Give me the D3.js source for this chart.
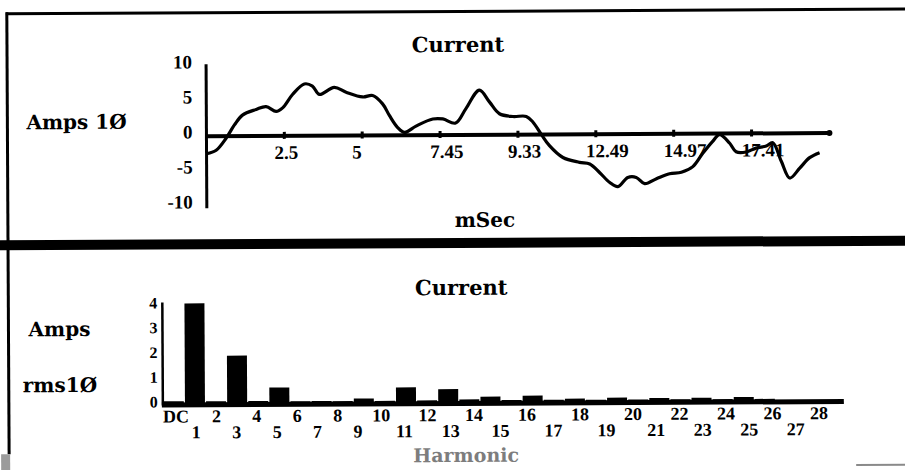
<!DOCTYPE html>
<html>
<head>
<meta charset="utf-8">
<script src="https://cdn.jsdelivr.net/npm/d3@7"></script>
<style>
  body { margin: 0; background: #fff; }
  svg { display: block; }
  .lbl { font-family: "DejaVu Serif", serif; font-weight: bold; fill: #000; }
  .tk { font-family: "Liberation Serif", serif; font-weight: bold; fill: #000; }
</style>
</head>
<body>
<div class="viewport"></div>
<script>
// instantaneous current, one cycle
const timeMs = [0, 0.31, 0.63, 0.9, 1.16, 1.6, 1.92, 2.24, 2.45, 2.77, 3.15, 3.41, 3.63, 4.11, 4.49,
  5.02, 5.34, 5.66, 5.88, 6.14, 6.36, 6.73, 7.27, 7.59, 8.0, 8.34, 8.77, 9.09, 9.41, 9.84, 10.27,
  10.48, 10.74, 11.01, 11.44, 11.97, 12.3, 12.62, 12.94, 13.2, 13.52, 13.79, 14.06, 14.44, 14.86,
  15.24, 15.61, 15.93, 16.25, 16.47, 16.79, 17.0, 17.32, 17.64, 17.97, 18.18, 18.45, 18.72, 19.04,
  19.36, 19.68];
const ampsInst = [-2.5, -2.0, -0.3, 1.6, 3.0, 3.8, 4.2, 3.5, 4.0, 5.9, 7.4, 7.1, 5.9, 6.9, 6.2,
  5.5, 5.7, 4.5, 2.8, 1.1, 0.4, 1.3, 2.3, 2.3, 1.7, 3.8, 6.4, 4.7, 3.0, 2.6, 2.6,
  1.8, 0.1, -1.6, -3.3, -4.0, -4.25, -5.5, -6.9, -7.5, -6.2, -6.2, -7.1, -6.4, -5.7,
  -5.5, -4.7, -2.8, -1.1, -0.15, -1.35, -2.6, -2.65, -2.1, -1.8, -1.35, -4.0, -6.4, -5.0,
  -3.5, -2.8];
const timeTicks = [2.5, 5, 7.5, 10, 12.5, 15, 17.5];
const timeTickLabels = ["2.5", "5", "7.45", "9.33", "12.49", "14.97", "17.41"];
const ampTicks = [10, 5, 0, -5, -10];

// harmonic spectrum
const harmonics = ["DC", "1", "2", "3", "4", "5", "6", "7", "8", "9", "10", "11", "12", "13", "14",
  "15", "16", "17", "18", "19", "20", "21", "22", "23", "24", "25", "26", "27", "28"];
const harmonicAmps = [0.05, 4.0, 0.04, 1.88, 0.04, 0.58, 0.02, 0.03, 0.02, 0.12, 0.02, 0.56, 0.03,
  0.48, 0.06, 0.17, 0.03, 0.2, 0.03, 0.07, 0.02, 0.1, 0.02, 0.08, 0.02, 0.08, 0.02, 0.1, 0.02];
const rmsTicks = [4, 3, 2, 1, 0];

const svg = d3
  .select(".viewport")
  .append("svg")
  .attr("width", 905)
  .attr("height", 470);

// the scan is a little skewed
const page = svg.append("g").attr("transform", "rotate(-0.3,452,240)");

const drawFrame = g => {
  g.append("line")
    .attr("x1", 7).attr("x2", 910).attr("y1", 11.5).attr("y2", 11.5)
    .attr("stroke", "#000").attr("stroke-width", 3);
  g.append("line")
    .attr("x1", 8).attr("x2", 8).attr("y1", 10).attr("y2", 452)
    .attr("stroke", "#000").attr("stroke-width", 3);
  g.append("rect")
    .attr("x", -5).attr("y", 238).attr("width", 915).attr("height", 10)
    .attr("fill", "#000");
  g.append("rect")
    .attr("x", 0).attr("y", 452).attr("width", 9).attr("height", 20)
    .attr("fill", "#9b9b9b");
  g.append("line")
    .attr("x1", 855).attr("x2", 910).attr("y1", 467).attr("y2", 467)
    .attr("stroke", "#8a8a8a").attr("stroke-width", 2);
};

const drawWave = g => {
  const x = d3.scaleLinear().domain([0, 20]).range([207, 830]);
  const y = d3.scaleLinear().domain([-10, 10]).range([205, 65]);

  g.append("text").attr("class", "lbl").attr("font-size", 21)
    .attr("x", 459).attr("y", 52).attr("text-anchor", "middle").text("Current");
  g.append("text").attr("class", "lbl").attr("font-size", 20)
    .attr("x", 27).attr("y", 127).text("Amps 1\u00D8");
  g.append("text").attr("class", "lbl").attr("font-size", 20)
    .attr("x", 485).attr("y", 227).attr("text-anchor", "middle").text("mSec");

  g.append("line")
    .attr("x1", x(0)).attr("x2", x(0)).attr("y1", y(10) - 2).attr("y2", y(-10) + 2)
    .attr("stroke", "#000").attr("stroke-width", 3);
  g.append("line")
    .attr("x1", x(0)).attr("x2", x(20)).attr("y1", y(0)).attr("y2", y(0))
    .attr("stroke", "#000").attr("stroke-width", 4);
  g.append("circle").attr("cx", x(20)).attr("cy", y(0)).attr("r", 3).attr("fill", "#000");

  g.selectAll(".ytk")
    .data(ampTicks)
    .enter()
    .append("text")
    .attr("class", "tk")
    .attr("font-size", 19)
    .attr("text-anchor", "end")
    .attr("x", 193)
    .attr("y", d => y(d) + 2)
    .text(d => d);

  g.selectAll(".xmark")
    .data(timeTicks)
    .enter()
    .append("rect")
    .attr("x", d => x(d) - 1.5)
    .attr("y", y(0) - 4)
    .attr("width", 3)
    .attr("height", 7)
    .attr("fill", "#000");

  g.selectAll(".xtk")
    .data(timeTicks)
    .enter()
    .append("text")
    .attr("class", "tk")
    .attr("font-size", 19)
    .attr("x", d => x(d) - 10)
    .attr("y", 158)
    .text((d, i) => timeTickLabels[i]);

  const line = d3
    .line()
    .x(d => x(d[0]))
    .y(d => y(d[1]))
    .curve(d3.curveCatmullRom.alpha(0.5));

  g.append("path")
    .datum(d3.zip(timeMs, ampsInst))
    .attr("d", line)
    .attr("fill", "none")
    .attr("stroke", "#000")
    .attr("stroke-width", 3.2)
    .attr("stroke-linejoin", "round");
};

const drawSpectrum = g => {
  const x = d3.scaleLinear().domain([0, 28]).range([173, 764]);
  // tick text spreads out to the right on the original
  const xl = d3.scaleLinear().domain([0, 9, 14, 20, 28]).range([175, 357, 473, 632, 818]);
  const y = d3.scaleLinear().domain([0, 4]).range([401, 302]);

  g.append("text").attr("class", "lbl").attr("font-size", 21)
    .attr("x", 461).attr("y", 295).attr("text-anchor", "middle").text("Current");
  g.append("text").attr("class", "lbl").attr("font-size", 20)
    .attr("x", 28).attr("y", 334).text("Amps");
  g.append("text").attr("class", "lbl").attr("font-size", 20)
    .attr("x", 22).attr("y", 390).text("rms1\u00D8");
  g.append("text").attr("class", "lbl").attr("font-size", 19)
    .attr("x", 465).attr("y", 462).attr("text-anchor", "middle")
    .style("fill", "#7d7d7d").text("Harmonic");

  g.selectAll(".bar")
    .data(harmonicAmps)
    .enter()
    .append("rect")
    .attr("class", "bar")
    .attr("x", (d, i) => x(i) - 10)
    .attr("width", 20)
    .attr("y", d => y(d))
    .attr("height", d => y(0) - y(d) + 2)
    .attr("fill", "#000");

  g.append("rect")
    .attr("x", 161).attr("y", y(0)).attr("width", 843 - 161).attr("height", 5)
    .attr("fill", "#000");
  g.append("line")
    .attr("x1", 162).attr("x2", 162).attr("y1", y(4) - 1).attr("y2", y(0) + 3)
    .attr("stroke", "#000").attr("stroke-width", 2.5);

  g.selectAll(".ytk")
    .data(rmsTicks)
    .enter()
    .append("text")
    .attr("class", "tk")
    .attr("font-size", 16)
    .attr("text-anchor", "end")
    .attr("x", 157)
    .attr("y", d => y(d) + 5)
    .text(d => d);

  g.selectAll(".xtk")
    .data(harmonics)
    .enter()
    .append("text")
    .attr("class", "tk")
    .attr("font-size", 18)
    .attr("text-anchor", "middle")
    .attr("x", (d, i) => xl(i))
    .attr("y", (d, i) => (i % 2 === 0 ? 421 : 437))
    .text(d => d);
};

drawFrame(page);
drawWave(page);
drawSpectrum(page);
</script>
</body>
</html>
